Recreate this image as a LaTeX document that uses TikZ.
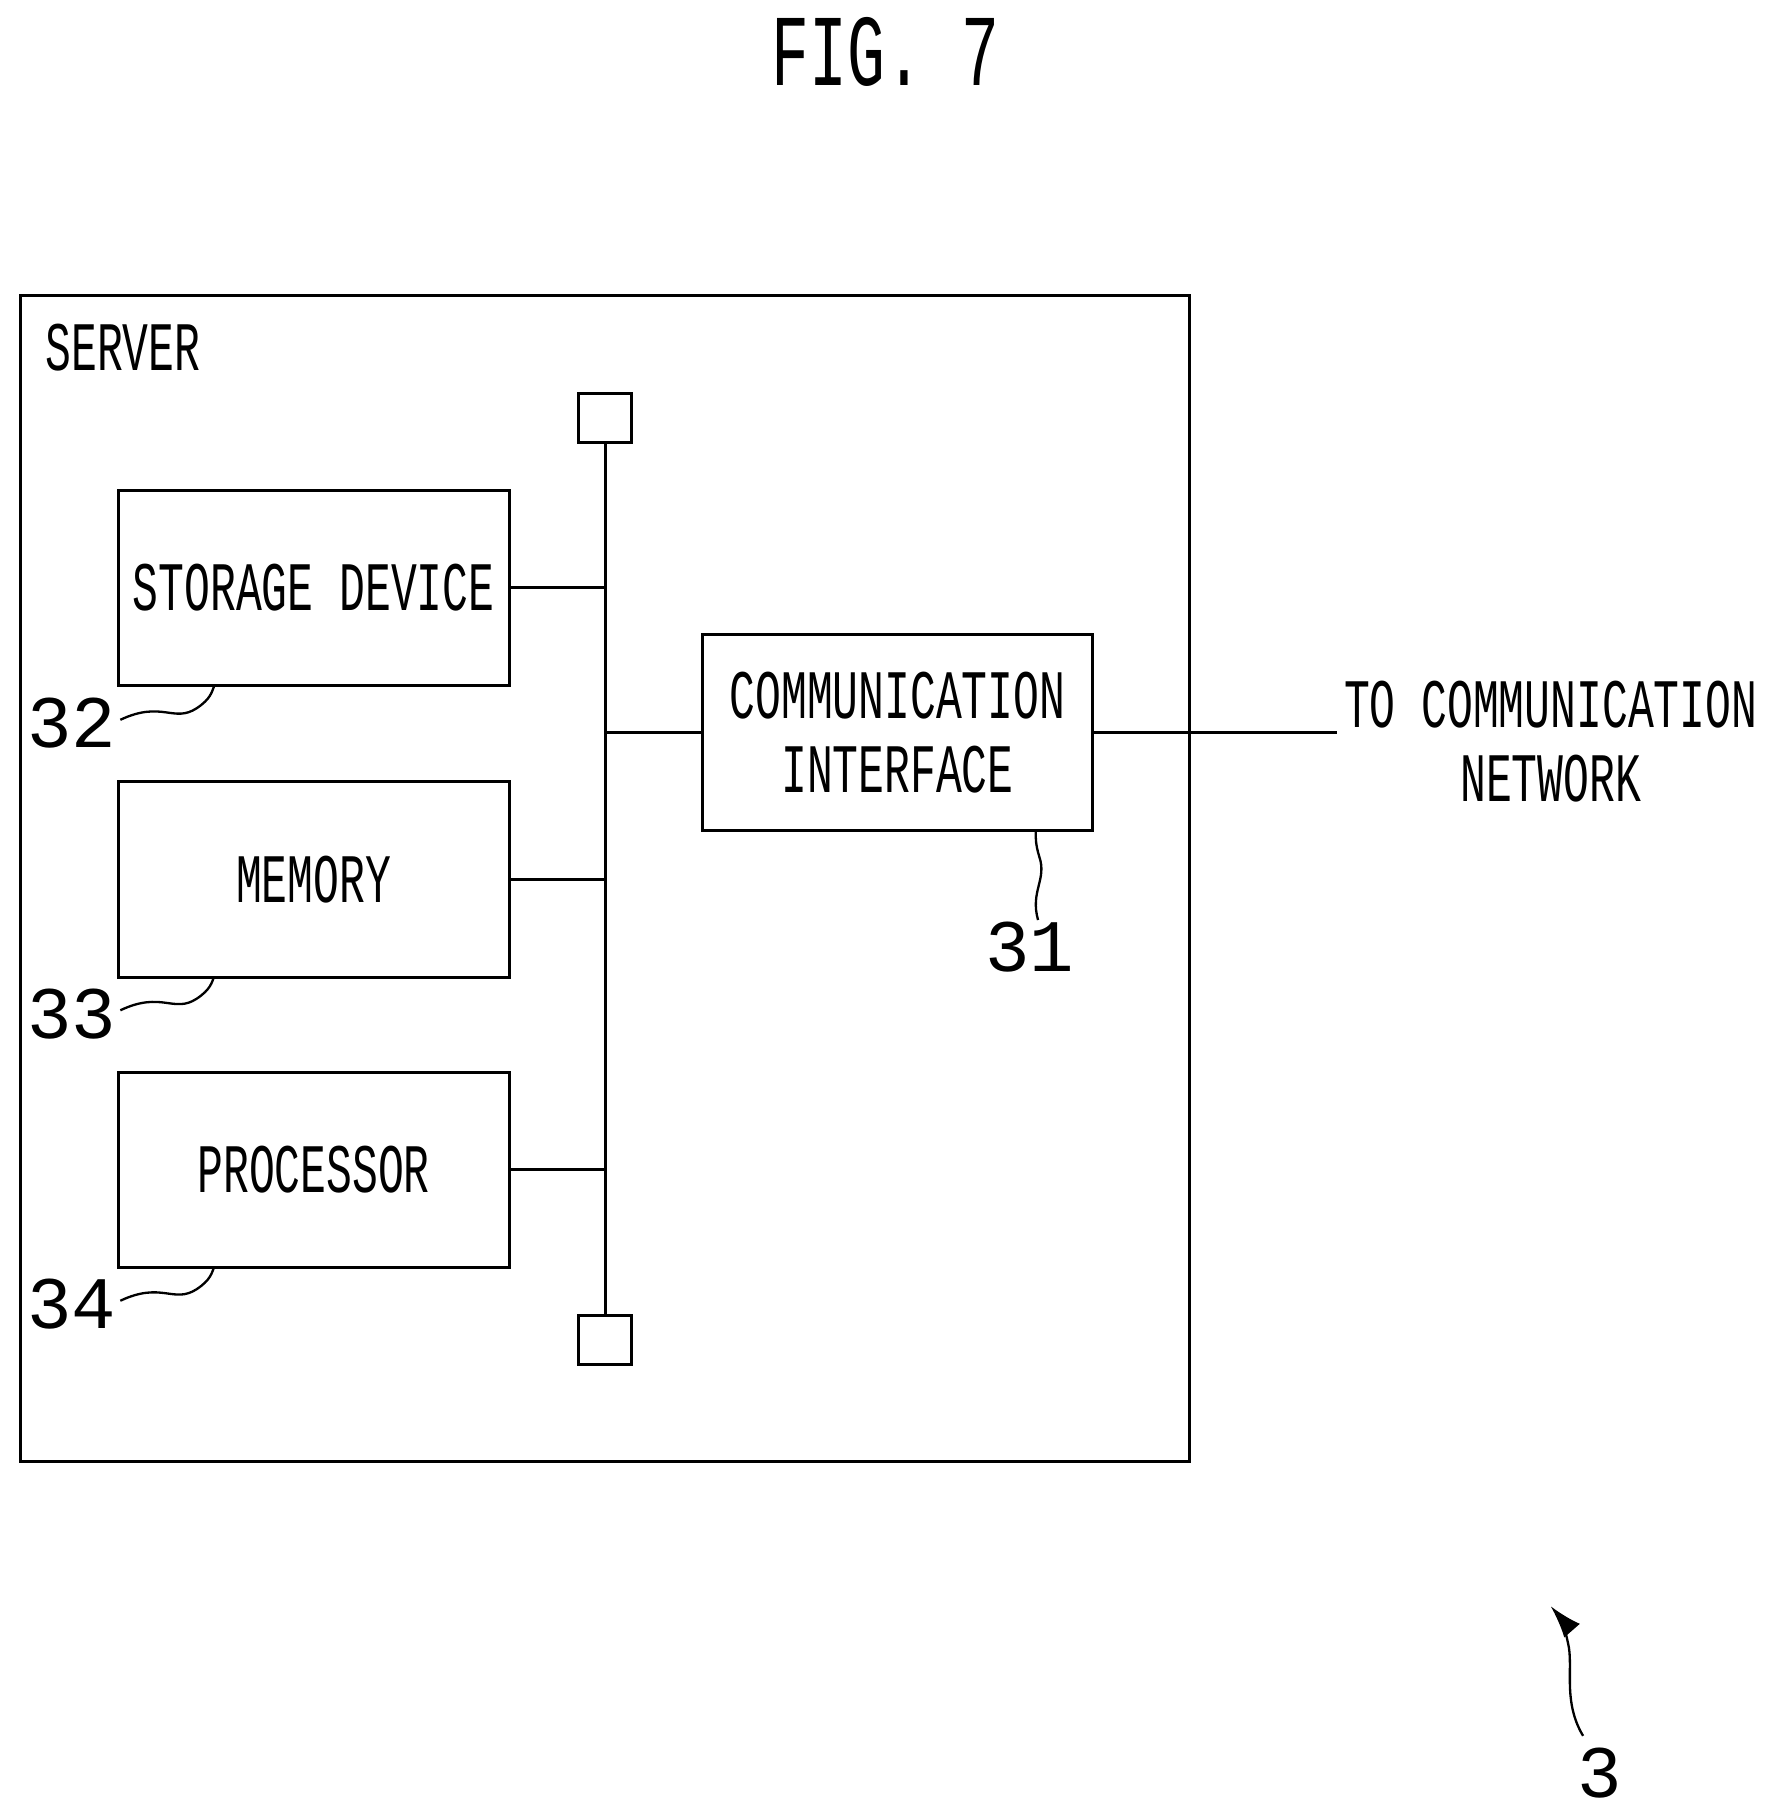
\documentclass[tikz,border=0pt]{standalone}
\usepackage{fontspec}
\usetikzlibrary{arrows.meta}
\setmainfont{Liberation Mono}
\newcommand{\nt}[1]{\scalebox{0.62}[1]{#1}}
\begin{document}
\begin{tikzpicture}[x=0.5pt,y=-0.5pt,line width=1.3pt,
  box/.style={draw,rectangle},
  lbl/.style={font=\fontsize{30}{36}\selectfont,inner sep=0pt,align=center},
  num/.style={font=\fontsize{32}{36}\selectfont,inner sep=0pt}]
\useasboundingbox (0,0) rectangle (1535,1571);
\node[font=\fontsize{44}{50}\selectfont] (fig) at (765,45) {\nt{FIG. 7}};
\draw (18,255) rectangle (1028,1263);
\node[lbl,anchor=west] (server) at (38,300) {\nt{SERVER}};
\node[box,minimum width=23pt,minimum height=21pt] (sqt) at (523,361) {};
\node[box,minimum width=23pt,minimum height=21pt] (sqb) at (523,1158) {};
\draw (sqt.south) -- (sqb.north);
\node[box,minimum width=169pt,minimum height=84.5pt] (sto) at (271,508) {};
\node[lbl] at (sto) {\nt{STORAGE DEVICE}};
\node[box,minimum width=169pt,minimum height=84.5pt] (mem) at (271,760) {};
\node[lbl] at (mem) {\nt{MEMORY}};
\node[box,minimum width=169pt,minimum height=84.5pt] (pro) at (271,1011) {};
\node[lbl] at (pro) {\nt{PROCESSOR}};
\node[box,minimum width=168.5pt,minimum height=84.5pt] (com) at (775.5,633) {};
\node[lbl] at (com) {\nt{COMMUNICATION}\\[-4pt]\nt{INTERFACE}};
\draw (sto.east) -- (523,508);
\draw (mem.east) -- (523,760);
\draw (pro.east) -- (523,1011);
\draw (com.west) -- (523,633);
\coordinate (net) at (1155,633);
\draw (com.east) -- (net);
\node[lbl] (tonet) at (1340,641) {\nt{TO COMMUNICATION}\\[-4pt]\nt{NETWORK}};
\node[num] (n32) at (62,625) {32};
\node[num] (n33) at (62,876) {33};
\node[num] (n34) at (62,1127) {34};
\node[num] (n31) at (890,818) {31};
\node[num] (n3) at (1382,1532) {3};
\draw[line width=1pt] (104,622) .. controls (140,605) and (150,625) .. (170,612) .. controls (182,604) and (183,598) .. (185,593);
\draw[line width=1pt] (104,873) .. controls (140,856) and (150,876) .. (170,863) .. controls (182,855) and (183,849) .. (185,844);
\draw[line width=1pt] (104,1124) .. controls (140,1107) and (150,1127) .. (170,1114) .. controls (182,1106) and (183,1100) .. (185,1095);
\draw[line width=1pt] (897,795) .. controls (890,770) and (905,760) .. (898,740) .. controls (895,730) and (895,725) .. (895,719);
\draw[line width=1pt,-{Latex[length=14pt,width=9pt]}] (1368,1500) .. controls (1350,1470) and (1360,1440) .. (1355,1420) .. controls (1352,1405) and (1347,1396) .. (1340,1388);
\end{tikzpicture}
\end{document}
